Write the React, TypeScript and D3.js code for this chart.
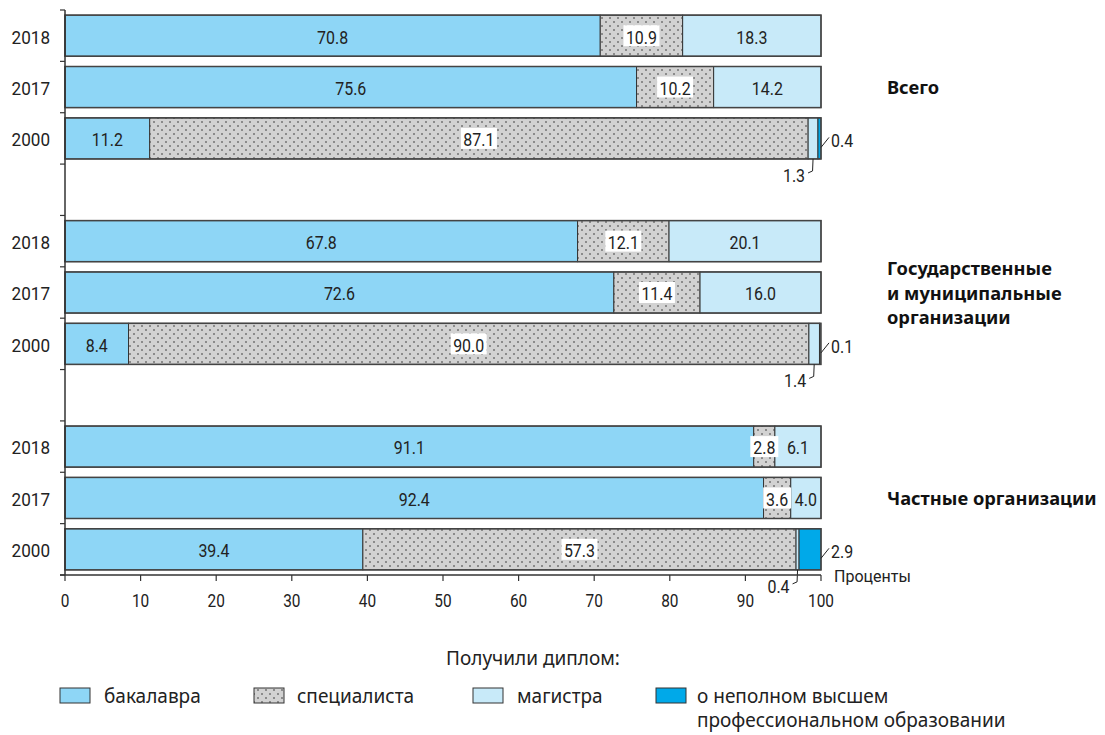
import React from "react";
import * as d3 from "d3";

const groups = ["Всего", "Государственные организации", "Частные организации"];
const groupLabels = [["Всего"], ["Государственные", "и муниципальные", "организации"], ["Частные организации"]];
const years = ["2018", "2017", "2000"];
const bachelor = [[70.8, 75.6, 11.2], [67.8, 72.6, 8.4], [91.1, 92.4, 39.4]];
const specialist = [[10.9, 10.2, 87.1], [12.1, 11.4, 90.0], [2.8, 3.6, 57.3]];
const master = [[18.3, 14.2, 1.3], [20.1, 16.0, 1.4], [6.1, 4.0, 0.4]];
const incomplete = [[0, 0, 0.4], [0, 0, 0.1], [0, 0, 2.9]];
const xTicks = [0, 10, 20, 30, 40, 50, 60, 70, 80, 90, 100];
const legendNames = ["бакалавра", "специалиста", "магистра", "о неполном высшем"];

const COL_B = "#8ed6f6";
const COL_M = "#c8eaf9";
const COL_I = "#00a9e9";
const FONT = "'Roboto', sans-serif";
const LFONT = "'Noto Sans', 'Open Sans', sans-serif";

function NText({ x, y, anchor = "middle", size = 19, children, sx = 0.84 }: any) {
  return (
    <g transform={`translate(${x},${y}) scale(${sx},1)`}>
      <text x={0} y={0} dy="0.36em" textAnchor={anchor} fontFamily={FONT} fontSize={size} fill="#222">{children}</text>
    </g>
  );
}

export default function App() {
  const W = 1105, H = 735;
  const x = d3.scaleLinear().domain([0, 100]).range([65, 821]);
  const rows: string[] = [];
  groups.forEach((g, gi) => {
    years.forEach((y) => rows.push(g + "|" + y));
    if (gi < groups.length - 1) rows.push("gap" + gi);
  });
  const yb = d3.scaleBand().domain(rows).range([10, 575]).paddingInner(0.2).paddingOuter(0.1);
  const step = yb.step();
  const segs: any[] = [];
  groups.forEach((g, gi) => {
    years.forEach((yr, yi) => {
      const vals = [bachelor[gi][yi], specialist[gi][yi], master[gi][yi], incomplete[gi][yi]];
      let acc = 0;
      vals.forEach((v, k) => {
        segs.push({ gi, yi, k, x0: acc, x1: acc + v, v, row: g + "|" + yr });
        acc += v;
      });
    });
  });
  const fills = [COL_B, "url(#dots)", COL_M, COL_I];
  const boundaries = d3.range(rows.length + 1).map((i) => 10 + i * step);

  return (
    <svg width={W} height={H} style={{ display: "block", position: "absolute", left: 0, top: 0 }}>
      <defs>
        <pattern id="dots" patternUnits="userSpaceOnUse" width="8" height="8">
          <rect width="8" height="8" fill="#d2d2d2" />
          <path d="M1 2h2M2 1v2M5 6h2M6 5v2" stroke="#555" strokeWidth="0.7" />
        </pattern>
      </defs>
      <rect width={W} height={H} fill="#fff" />
      {segs.filter((s) => s.v > 0).map((s, i) => (
        <rect key={i} x={x(s.x0)} y={yb(s.row)} width={x(s.x1) - x(s.x0)} height={yb.bandwidth()}
          fill={fills[s.k]} stroke="#333" strokeWidth={1} />
      ))}
      {rows.filter((r) => !r.startsWith("gap")).map((r) => (
        <rect key={r} x={x(0)} y={yb(r)} width={x(100) - x(0)} height={yb.bandwidth()} fill="none" stroke="#444" strokeWidth={1.5} />
      ))}
      {segs.filter((s) => s.v >= 2 && s.k < 3).map((s, i) => {
        const cx = (x(s.x0) + x(s.x1)) / 2;
        const cy = (yb(s.row) as number) + yb.bandwidth() / 2;
        const t = s.v.toFixed(1);
        const tw = t.length * 8;
        return (
          <g key={"l" + i}>
            {s.k === 1 && <rect x={cx - tw / 2 - 2} y={cy - 10.5} width={tw + 4} height={21} fill="#fff" />}
            <NText x={cx} y={cy + 1}>{t}</NText>
          </g>
        );
      })}
      {groups.map((g, gi) => {
        const row = g + "|2000";
        const top = yb(row) as number;
        const bot = top + yb.bandwidth();
        const mid = top + yb.bandwidth() / 2;
        const rightVal = incomplete[gi][2];
        const belowVal = master[gi][2];
        const mx = x(bachelor[gi][2] + specialist[gi][2] + master[gi][2] / 2);
        return (
          <g key={"c" + gi}>
            <path d={`M${x(100)} ${mid + 9} L${x(100) + 8} ${mid - 1}`} stroke="#222" fill="none" />
            <NText x={x(100) + 10} y={mid + 2} anchor="start">{rightVal.toFixed(1)}</NText>
            <path d={`M${mx} ${bot} L${mx - 0.5} ${bot + 12} L${mx - 5} ${bot + 14}`} stroke="#222" fill="none" />
            <NText x={mx - 8} y={bot + 16} anchor="end">{belowVal.toFixed(1)}</NText>
          </g>
        );
      })}
      <line x1={65} x2={65} y1={10} y2={575} stroke="#333" strokeWidth={1.5} />
      {boundaries.map((b, i) => (
        <line key={"yt" + i} x1={60} x2={65} y1={b} y2={b} stroke="#333" strokeWidth={1.2} />
      ))}
      {rows.filter((r) => !r.startsWith("gap")).map((r) => (
        <NText key={"yl" + r} x={50} y={(yb(r) as number) + yb.bandwidth() / 2 + 1} anchor="end" sx={0.9}>{r.split("|")[1]}</NText>
      ))}
      <line x1={60} x2={821} y1={575} y2={575} stroke="#333" strokeWidth={1.5} />
      {xTicks.map((t) => (
        <g key={"xt" + t}>
          <line x1={x(t)} x2={x(t)} y1={575} y2={581} stroke="#333" strokeWidth={1.2} />
          <NText x={x(t)} y={601} size={17.5} sx={0.88}>{t}</NText>
        </g>
      ))}
      <text x={834} y={582} fontFamily={FONT} fontSize={16} fill="#222">Проценты</text>
      {groupLabels.map((lines, gi) => {
        const cy = (yb(groups[gi] + "|2017") as number) + yb.bandwidth() / 2;
        const lh = 24.5;
        return lines.map((ln, li) => (
          <text key={"g" + gi + li} x={887} y={cy + 7 + (li - (lines.length - 1) / 2) * lh} fontFamily={LFONT} fontWeight="bold" fontSize={18.3} fill="#111">{ln}</text>
        ));
      })}
      <text x={533} y={665} textAnchor="middle" fontFamily={LFONT} fontSize={19} fill="#222">Получили диплом:</text>
      {[[60, 104], [254, 297], [473, 517], [656, 697]].map(([sx, tx], i) => (
        <g key={"lg" + i}>
          <rect x={sx} y={688} width={30} height={15} fill={i === 1 ? "url(#dots)" : [COL_B, "", COL_M, COL_I][i]} stroke="#333" strokeWidth={1} />
          <text x={tx} y={703} fontFamily={LFONT} fontSize={19} fill="#222">{legendNames[i]}</text>
        </g>
      ))}
      <text x={697} y={727} fontFamily={LFONT} fontSize={19} fill="#222">профессиональном образовании</text>
    </svg>
  );
}
